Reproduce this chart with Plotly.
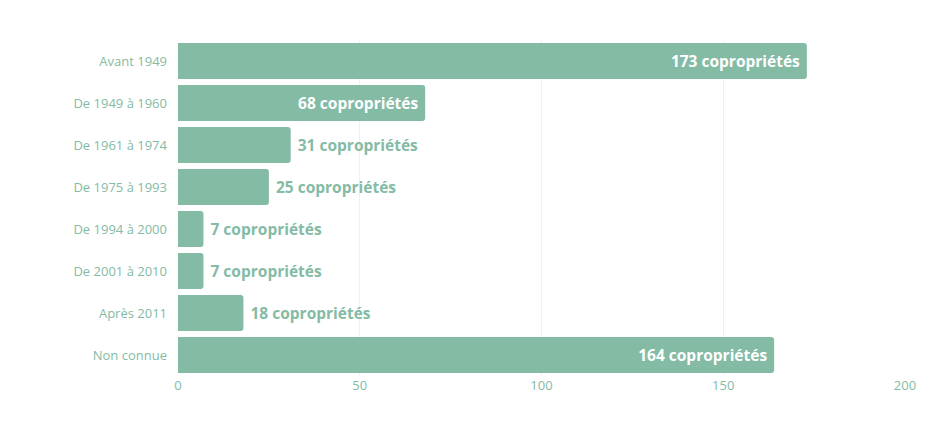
import plotly.graph_objects as go

categories = ["Avant 1949", "De 1949 à 1960", "De 1961 à 1974", "De 1975 à 1993",
              "De 1994 à 2000", "De 2001 à 2010", "Après 2011", "Non connue"]
values = [173, 68, 31, 25, 7, 7, 18, 164]
unit = "copropriétés"

GREEN = "#84bba5"
labels = [f" {v} {unit} " for v in values]

fig = go.Figure(go.Bar(
    x=values, y=categories, orientation="h",
    marker=dict(color=GREEN, line=dict(width=0)),
    text=labels, textposition="auto",
    insidetextanchor="end",
    insidetextfont=dict(color="white", size=15.5, family="Open Sans", weight=700),
    outsidetextfont=dict(color=GREEN, size=15.5, family="Open Sans", weight=700),
    cliponaxis=False,
    hoverinfo="skip",
))

fig.update_layout(
    width=935, height=437,
    margin=dict(l=170, r=38, t=32, b=69),
    paper_bgcolor="white", plot_bgcolor="white",
    bargap=0.14,
    barcornerradius=3,
    showlegend=False,
    font=dict(family="Open Sans", color=GREEN, size=13),
    uniformtext=dict(minsize=15, mode="show"),
)
fig.update_xaxes(range=[0, 200], tickvals=[0, 50, 100, 150, 200],
                 showgrid=True, gridcolor="#edf2ef", gridwidth=1,
                 zeroline=False, showline=False, ticks="",
                 tickfont=dict(color=GREEN, size=13, family="Open Sans"))
fig.update_yaxes(autorange="reversed", showgrid=False, zeroline=False,
                 showline=False, ticks="", ticklabelstandoff=10,
                 tickfont=dict(color=GREEN, size=13, family="Open Sans"))

fig.write_html("out.html")
